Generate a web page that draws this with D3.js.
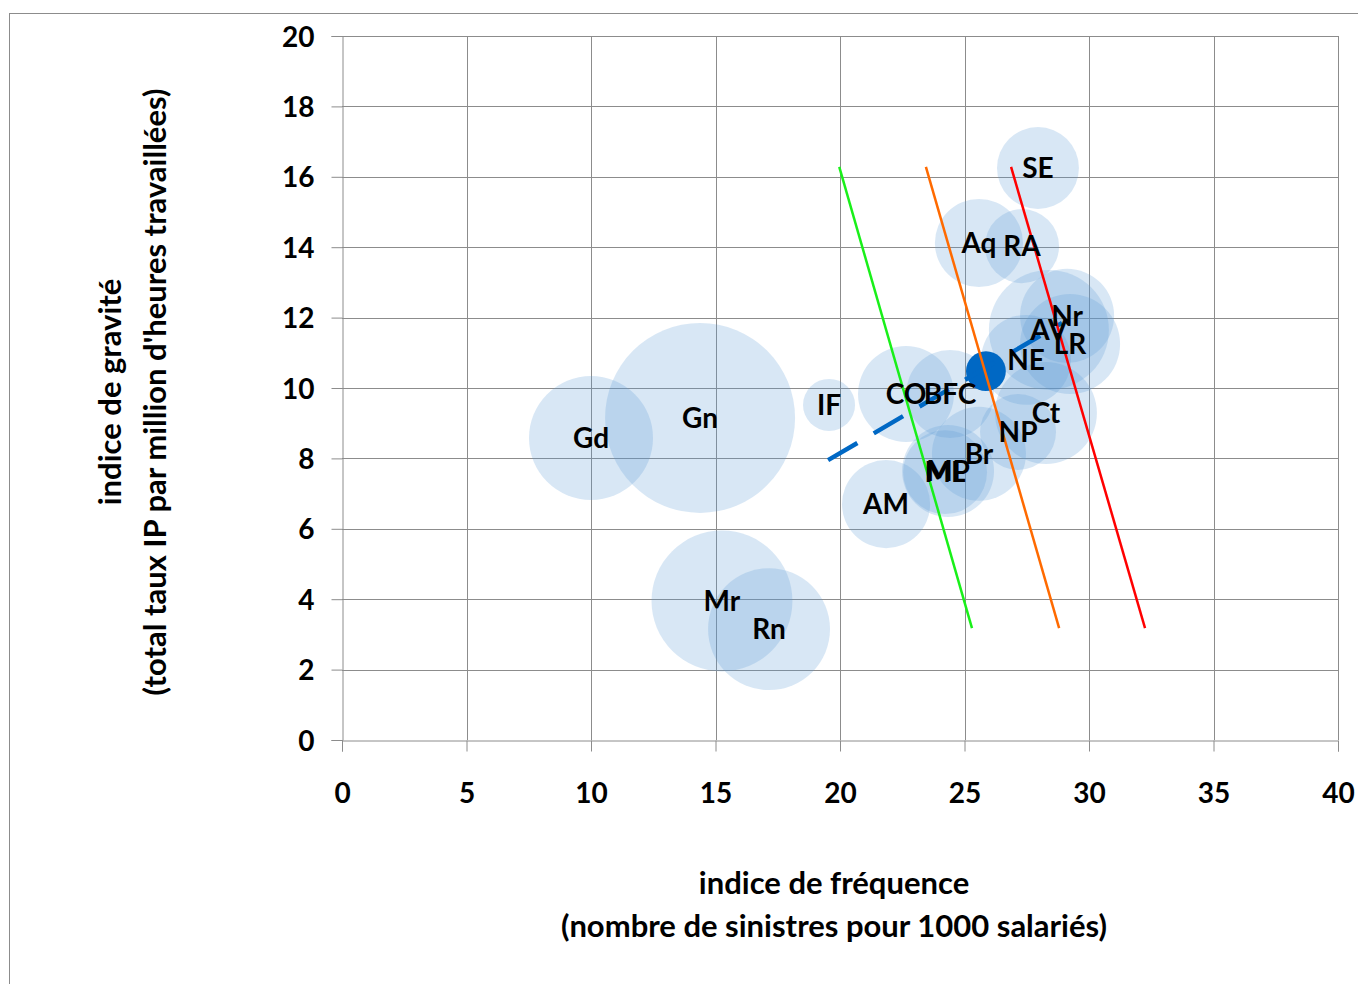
<!DOCTYPE html>
<html>
<head>
<meta charset="utf-8">
<script src="https://cdn.jsdelivr.net/npm/d3@7"></script>
<style>
  html, body { margin: 0; padding: 0; background: #fff; }
  svg { display: block; }
  text { font-family: Lato, "Open Sans", sans-serif; font-weight: bold; fill: #000; }
</style>
</head>
<body>
<svg id="chart" width="1358" height="984"></svg>
<script>
// ---- data ----
const regions = ["SE", "Aq", "RA", "Nr", "AV", "LR", "NE", "Ct", "NP", "Br", "ML", "MP", "CO", "BFC", "IF", "AM", "Gd", "Gn", "Mr", "Rn"];
const freq    = [27.95, 25.58, 27.31, 29.12, 28.39, 29.24, 27.47, 28.27, 27.15, 25.58, 24.22, 24.34, 22.65, 24.42, 19.56, 21.85, 10.00, 14.38, 15.26, 17.15];
const grav    = [16.25, 14.12, 14.03, 12.05, 11.65, 11.25, 10.80, 9.29, 8.75, 8.13, 7.61, 7.64, 9.83, 9.83, 9.52, 6.70, 8.58, 9.15, 3.95, 3.15];
const size    = [18.6, 21.5, 15.2, 24.5, 39.9, 27.7, 22.4, 28.8, 16.0, 24.5, 19.5, 23.4, 25.5, 21.5, 7.5, 21.5, 42.6, 100, 55, 41.2];

// national average point
const nationalFreq = [25.86];
const nationalGrav = [10.48];
const nationalSize = [4.4];

// trend (dashed) line
const trendFreq = [19.52, 28.92];
const trendGrav = [7.95, 11.85];

// iso-lines
const isoNames = ["green", "orange", "red"];
const isoFreqStart = [19.97, 23.45, 26.87];
const isoFreqEnd   = [25.30, 28.80, 32.25];
const isoGravStart = [16.28, 16.28, 16.28];
const isoGravEnd   = [3.18, 3.18, 3.18];

const xTicks = [0, 5, 10, 15, 20, 25, 30, 35, 40];
const yTicks = [0, 2, 4, 6, 8, 10, 12, 14, 16, 18, 20];

const xTitle = ["indice de fréquence", "(nombre de sinistres pour 1000 salariés)"];
const yTitle = ["indice de gravité", "(total taux IP par million d'heures travaillées)"];

// ---- layout ----
const svg = d3.select("#chart");
const L = 342, R = 1338, T = 36, B = 740;
const x = d3.scaleLinear().domain([0, 40]).range([L, R]);
const y = d3.scaleLinear().domain([0, 20]).range([B, T]);
const r = d3.scaleSqrt().domain([0, 100]).range([0, 95]);
const gridColor = "#8c8c8c";
const isoColors = { green: "#19f019", orange: "#ff6a00", red: "#ff0000" };

// outer frame
svg.append("rect").attr("x", 9.5).attr("y", 13.5).attr("width", 1400).attr("height", 1000)
  .attr("fill", "none").attr("stroke", "#8c8c8c").attr("stroke-width", 1);

// gridlines
svg.append("g").selectAll("line").data(yTicks.filter(d => d > 0)).join("line")
  .attr("x1", L).attr("x2", R).attr("y1", d => Math.round(y(d)) + 0.5).attr("y2", d => Math.round(y(d)) + 0.5)
  .attr("stroke", gridColor).attr("stroke-width", 1);
svg.append("g").selectAll("line").data(xTicks.filter(d => d > 0)).join("line")
  .attr("y1", T).attr("y2", B).attr("x1", d => Math.round(x(d)) + 0.5).attr("x2", d => Math.round(x(d)) + 0.5)
  .attr("stroke", gridColor).attr("stroke-width", 1);

// axes
const xAxis = d3.axisBottom(x).tickValues(xTicks).tickSize(11).tickPadding(32).tickFormat(d3.format("d"));
const yAxis = d3.axisLeft(y).tickValues(yTicks).tickSize(11).tickPadding(17).tickFormat(d3.format("d"));
const gx = svg.append("g").attr("transform", `translate(0,${B + 0.5})`).call(xAxis);
const gy = svg.append("g").attr("transform", `translate(${L + 0.5},0)`).call(yAxis);
[gx, gy].forEach(g => {
  g.select(".domain").attr("stroke", gridColor);
  g.selectAll(".tick line").attr("stroke", gridColor);
  g.selectAll(".tick text").style("font-family", "Lato, sans-serif").style("font-weight", "bold")
    .style("font-size", "28px").attr("fill", "#000");
});
gy.selectAll(".tick text").attr("dy", "0.36em");

// bubbles
const pts = regions.map((name, i) => ({ name, fx: freq[i], gy: grav[i], s: size[i] }));
const drawOrder = pts.slice().sort((a, b) => b.s - a.s);
svg.append("g").selectAll("circle").data(drawOrder).join("circle")
  .attr("cx", d => x(d.fx)).attr("cy", d => y(d.gy)).attr("r", d => r(d.s))
  .attr("fill", "rgb(91,155,213)").attr("fill-opacity", 0.24);

// national average
svg.append("g").selectAll("circle").data(nationalFreq.map((f, i) => ({ f, g: nationalGrav[i], s: nationalSize[i] }))).join("circle")
  .attr("cx", d => x(d.f)).attr("cy", d => y(d.g)).attr("r", d => r(d.s))
  .attr("fill", "#0068c4");

// trend dashed line
svg.append("line")
  .attr("x1", x(trendFreq[0])).attr("y1", y(trendGrav[0]))
  .attr("x2", x(trendFreq[1])).attr("y2", y(trendGrav[1]))
  .attr("stroke", "#0068c4").attr("stroke-width", 4.5).attr("stroke-dasharray", "34,19");

// iso-lines
svg.append("g").selectAll("line").data(isoNames).join("line")
  .attr("x1", (d, i) => x(isoFreqStart[i])).attr("y1", (d, i) => y(isoGravStart[i]))
  .attr("x2", (d, i) => x(isoFreqEnd[i])).attr("y2", (d, i) => y(isoGravEnd[i]))
  .attr("stroke", d => isoColors[d]).attr("stroke-width", 2.5);

// labels
svg.append("g").selectAll("text").data(pts).join("text")
  .attr("x", d => x(d.fx)).attr("y", d => y(d.gy)).attr("dy", "0.36em")
  .attr("text-anchor", "middle").style("font-size", "28px").text(d => d.name);

// axis titles
const xc = 834;
svg.append("text").attr("x", xc).attr("y", 883).attr("dy", "0.36em").attr("text-anchor", "middle")
  .style("font-size", "31px").text(xTitle[0]);
svg.append("text").attr("x", xc).attr("y", 926).attr("dy", "0.36em").attr("text-anchor", "middle")
  .style("font-size", "31px").text(xTitle[1]);
const yc = 392;
svg.append("text").attr("transform", `translate(110,${yc}) rotate(-90)`).attr("dy", "0.36em").attr("text-anchor", "middle")
  .style("font-size", "31px").text(yTitle[0]);
svg.append("text").attr("transform", `translate(155,${yc}) rotate(-90)`).attr("dy", "0.36em").attr("text-anchor", "middle")
  .style("font-size", "31px").text(yTitle[1]);
</script>
</body>
</html>
